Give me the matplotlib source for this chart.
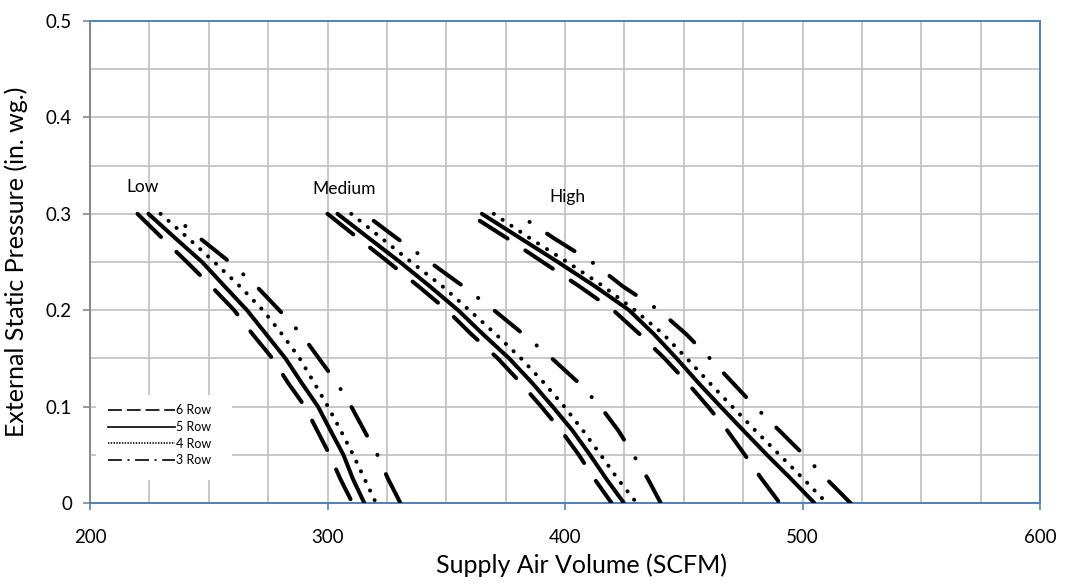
import matplotlib
matplotlib.use("Agg")
import matplotlib.pyplot as plt
from matplotlib.lines import Line2D
from matplotlib.patches import Rectangle
from matplotlib.ticker import MultipleLocator, FuncFormatter

plt.rcParams['font.family'] = ['Lato', 'DejaVu Sans']
plt.rcParams['lines.scale_dashes'] = False

# external static pressure levels (in. wg.) shared by all curves
esp = [0.300, 0.275, 0.250, 0.225, 0.200, 0.175, 0.150, 0.125, 0.100, 0.075, 0.050, 0.025, 0.000]
rows = ["6 Row", "5 Row", "4 Row", "3 Row"]
speeds = ["Low", "Medium", "High"]

# supply air volume (SCFM) read at each esp level
low_6row = [220.0, 230.3, 240.8, 251.0, 260.7, 268.5, 276.8, 283.3, 290.5, 295.7, 300.9, 305.4, 310.5]
low_5row = [224.6, 235.8, 247.2, 256.6, 266.1, 274.2, 282.3, 289.0, 296.0, 301.3, 306.7, 310.7, 315.5]
low_4row = [229.7, 241.2, 252.3, 263.0, 272.8, 280.9, 288.3, 294.3, 300.2, 305.6, 310.8, 315.6, 320.4]
low_3row = [234.0, 246.1, 258.8, 270.0, 279.7, 289.0, 296.4, 303.8, 310.0, 315.5, 321.0, 325.5, 330.7]

medium_6row = [300.0, 312.7, 325.6, 338.2, 350.3, 360.6, 371.7, 381.2, 390.0, 398.4, 405.8, 412.4, 419.6]
medium_5row = [304.2, 317.3, 330.5, 343.0, 355.0, 365.5, 376.5, 386.0, 394.8, 403.2, 410.5, 417.4, 424.8]
medium_4row = [310.0, 322.6, 335.2, 348.3, 359.7, 370.9, 381.5, 391.0, 399.7, 407.6, 415.0, 422.2, 430.2]
medium_3row = [315.5, 329.0, 343.0, 357.0, 370.1, 382.5, 394.5, 405.6, 414.9, 422.5, 428.8, 434.9, 440.3]

high_6row = [359.5, 375.4, 390.6, 405.9, 420.3, 431.5, 441.9, 451.4, 460.2, 468.4, 475.7, 482.8, 490.4]
high_5row = [365.0, 381.0, 397.0, 412.5, 427.0, 437.5, 447.0, 456.0, 465.5, 475.2, 485.0, 495.2, 505.0]
high_4row = [370.0, 385.0, 400.9, 416.0, 429.4, 441.4, 451.3, 460.7, 470.4, 480.2, 490.3, 500.4, 510.2]
high_3row = [380.0, 395.1, 411.3, 424.2, 439.5, 451.1, 461.0, 470.5, 480.0, 490.3, 500.5, 510.1, 520.2]

curves = {
    "Low": [low_6row, low_5row, low_4row, low_3row],
    "Medium": [medium_6row, medium_5row, medium_4row, medium_3row],
    "High": [high_6row, high_5row, high_4row, high_3row],
}

#%%
px = 0.72  # points per pixel at dpi 100
dash_6 = (33 * px, 21.4 * px)
dots_4 = (0.1, 10.5 * px)
dashdot_3 = (32.5 * px, 21.8 * px, 0.1, 21 * px)

def style(row, offset=0.0):
    if row == "6 Row":
        return (offset * px, dash_6)
    if row == "4 Row":
        return (offset * px, dots_4)
    if row == "3 Row":
        return (offset * px, dashdot_3)
    return "-"

# pattern offsets (px) so the dashes start where they do in the chart
offsets = {("Low", "3 Row"): 35.3, ("Medium", "3 Row"): 63.7,
           ("High", "3 Row"): 39.8, ("High", "6 Row"): 41.4}

fig = plt.figure(figsize=(10.72, 5.83), dpi=100)
ax = fig.add_axes([90 / 1072, 1 - 503 / 583, 950 / 1072, 482 / 583])

for sp in speeds:
    for row, xs in zip(rows, curves[sp]):
        ax.plot(xs, esp, color="black", lw=2.9,
                linestyle=style(row, offsets.get((sp, row), 0.0)),
                dash_capstyle="round", solid_capstyle="round",
                solid_joinstyle="round", zorder=3)

ax.set_xlim(200, 600)
ax.set_ylim(0, 0.5)
ax.xaxis.set_major_locator(MultipleLocator(100))
ax.xaxis.set_minor_locator(MultipleLocator(25))
ax.yaxis.set_major_locator(MultipleLocator(0.1))
ax.yaxis.set_minor_locator(MultipleLocator(0.05))
ax.yaxis.set_major_formatter(FuncFormatter(lambda v, pos: "0" if abs(v) < 1e-9 else "{:.1f}".format(v)))
ax.grid(True, which="both", color="#bfbfbf", lw=1.2, zorder=0)
ax.set_axisbelow(True)

for s in ["top", "right", "bottom"]:
    ax.spines[s].set_color("#4f81bd")
    ax.spines[s].set_linewidth(1.4)
ax.spines["left"].set_color("#868686")
ax.spines["left"].set_linewidth(1.4)
ax.tick_params(axis="x", which="major", length=5, width=1.2, color="#4f81bd", labelsize=13.5, pad=14)
ax.tick_params(axis="y", which="major", length=5, width=1.2, color="#868686", labelsize=13.5, pad=8)
ax.tick_params(which="minor", length=0)

ax.set_xlabel("Supply Air Volume (SCFM)", fontsize=18)
ax.xaxis.set_label_coords((581.5 - 90) / 950, -(565 - 503) / 482)
ax.xaxis.label.set_va("center")
ax.set_ylabel("External Static Pressure (in. wg.)", fontsize=18)
ax.yaxis.set_label_coords(-(90 - 16) / 950, 0.5)
ax.yaxis.label.set_va("center")

ax.text(222, 0.328, "Low", fontsize=12.5, ha="center", va="center")
ax.text(307, 0.326, "Medium", fontsize=12.5, ha="center", va="center")
ax.text(401, 0.317, "High", fontsize=12.5, ha="center", va="center")

# white legend area that hides the grid
ax.add_patch(Rectangle((6 / 950, (503 - 480) / 482), 136 / 950, 85 / 482, transform=ax.transAxes,
                       facecolor="white", edgecolor="none", zorder=1))

# legend uses thinner, finer patterns
leg_handles = [
    Line2D([], [], color="black", lw=1.2, linestyle=(0, (10, 3.5))),
    Line2D([], [], color="black", lw=1.2, linestyle="-"),
    Line2D([], [], color="black", lw=1.2, linestyle=(0, (1, 1))),
    Line2D([], [], color="black", lw=1.2, linestyle=(0, (10, 4, 1.5, 4))),
]
leg = ax.legend(leg_handles, rows, loc="upper left", bbox_to_anchor=(15 / 950, (503 - 402) / 482),
                fontsize=9, frameon=False, handlelength=5.4, handletextpad=0.1, labelspacing=0.36,
                borderpad=0.2, borderaxespad=0)

fig.savefig("out.png", dpi=100)
